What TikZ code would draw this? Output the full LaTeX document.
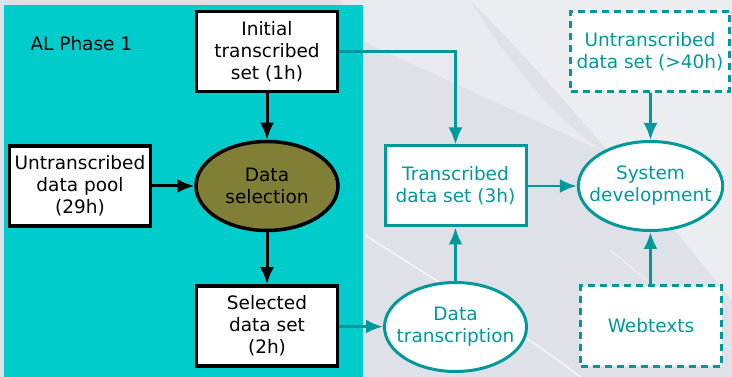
\documentclass[tikz,border=0pt]{standalone}
\usepackage{fontspec}
\setmainfont{DejaVu Sans}
\usetikzlibrary{arrows.meta,positioning,shapes.geometric}

\definecolor{phasecyan}{HTML}{00CCCC}
\definecolor{tealline}{HTML}{009999}
\definecolor{olivesel}{HTML}{807F35}
\definecolor{bggrey}{HTML}{DFE1E9}

\tikzset{
  box/.style={draw=black, fill=white, line width=3.5pt, minimum width=141pt, minimum height=80pt, align=center, inner sep=2pt},
  oval/.style={ellipse, draw=black, line width=3.5pt, minimum width=142pt, minimum height=89pt, align=center, inner xsep=-10pt, inner ysep=0pt},
  tbox/.style={box, draw=tealline, text=tealline, line width=3pt},
  toval/.style={oval, draw=tealline, fill=white, text=tealline, line width=3pt},
  dbox/.style={tbox, dash pattern=on 7pt off 5pt},
  blk/.style={draw=black, line width=3pt, -{Latex[length=17pt,width=14pt]}},
  tl/.style={draw=tealline, line width=2.8pt, -{Latex[length=17pt,width=14pt]}}
}

\begin{document}
\begin{tikzpicture}[x=1pt, y=-1pt, font=\fontsize{18.5}{22}\selectfont]
    \useasboundingbox (0,0) rectangle (732,377);
    % background
    \fill[bggrey] (0,0) rectangle (732,377);
    \fill[white, opacity=0.4] (470,0) -- (732,0) -- (732,300) .. controls (650,200) and (560,90) .. cycle;
    \fill[white, opacity=0.3] (340,0) -- (470,0) .. controls (520,80) and (560,120) .. (600,150) -- (360,40) -- cycle;
    \draw[white, opacity=0.7, line width=1.5pt] (365,235) .. controls (450,290) and (520,330) .. (580,377);
    \draw[white, opacity=0.5, line width=1pt] (610,250) .. controls (660,290) and (700,330) .. (732,350);
    \fill[phasecyan] (4,5) rectangle (363,377);

    \node[anchor=west] (phase) at (27,44) {AL Phase 1};

    % phase 1 nodes
    \node[box] (init) at (267,51.5) {Initial\\transcribed\\set (1h)};
    \node[box] (pool) at (80,186) {Untranscribed\\data pool\\(29h)};
    \node[oval, fill=olivesel] (sel) at (267,186) {Data\\selection};
    \node[box] (selset) at (267,326) {Selected\\data set\\(2h)};

    % later nodes
    \node[tbox] (trans) at (455.5,186) {Transcribed\\data set (3h)};
    \node[toval] (sysdev) at (650.5,186) {System\\development};
    \node[dbox, minimum width=159pt] (untr) at (650,51.5) {Untranscribed\\data set (>40h)};
    \node[toval] (datatr) at (455.5,327) {Data\\transcription};
    \node[dbox] (web) at (651,326) {Webtexts};

    % connectors
    \draw[blk] (init) -- (sel);
    \draw[blk] (pool) -- (sel);
    \draw[blk] (sel) -- (selset);
    \draw[tl] (init.east) -| (trans.north);
    \draw[tl] (selset) -- (datatr);
    \draw[tl] (datatr) -- (trans);
    \draw[tl] (trans) -- (sysdev);
    \draw[tl] (untr.south -| sysdev) -- (sysdev);
    \draw[tl] (web.north -| sysdev) -- (sysdev);
\end{tikzpicture}
\end{document}
